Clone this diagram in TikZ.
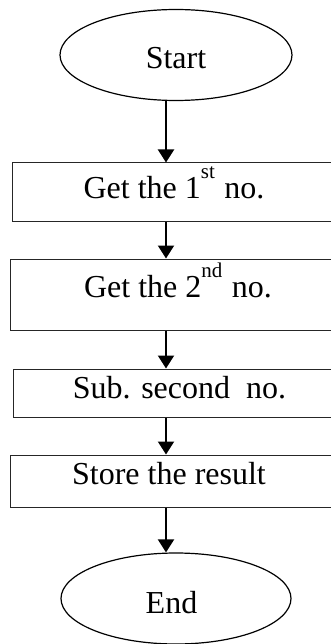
\documentclass[tikz,border=0pt]{standalone}
\usepackage{fontspec}
\setmainfont{Liberation Serif}
\usetikzlibrary{arrows.meta,shapes.geometric}
\newcommand\supr[1]{\raisebox{20pt}{\fontsize{21}{22}\selectfont #1}}
\begin{document}
\begin{tikzpicture}[x=1pt,y=-1pt,
  box/.style={draw=black!85,line width=1pt,rectangle,inner sep=0pt},
  term/.style={draw,ellipse,line width=1.2pt,inner sep=0pt},
  lbl/.style={font=\fontsize{32}{34}\selectfont,anchor=base,inner sep=0pt},
  flow/.style={line width=2pt,-{Triangle[length=13pt,width=16pt]}}]
\useasboundingbox (0,0) rectangle (331,644);
\clip (0,0) rectangle (331,644);
\fill[white] (0,0) rectangle (331,644);
\coordinate (ax) at (166,0);
\node[term,minimum width=232pt,minimum height=91pt] (start) at (176,55) {};
\node[box,minimum width=338pt,minimum height=58pt] (b1) at (181,192) {};
\node[box,minimum width=340pt,minimum height=71pt] (b2) at (180,294.5) {};
\node[box,minimum width=337pt,minimum height=48pt] (b3) at (181.5,393) {};
\node[box,minimum width=340pt,minimum height=52pt] (b4) at (180,481) {};
\node[term,minimum width=230pt,minimum height=91pt] (stop) at (176,598.5) {};
\node[lbl] (t0) at (176,69) {Start};
\node[lbl] (t1) at (174,199) {Get the 1\supr{st}\hspace{0.3em}no.};
\node[lbl] (t2) at (178,297) {Get the 2\supr{nd}\hspace{0.3em}no.};
\node[lbl] (t3) at (179.5,398) {Sub. second\ \ no.};
\node[lbl] (t4) at (169,484) {Store the result};
\node[lbl] (t5) at (171.5,613) {End};
\draw[flow] (start.south -| ax) -- (b1.north -| ax);
\draw[flow] (b1.south -| ax) -- (b2.north -| ax);
\draw[flow] (b2.south -| ax) -- (b3.north -| ax);
\draw[flow] (b3.south -| ax) -- (b4.north -| ax);
\draw[flow] (b4.south -| ax) -- (stop.north -| ax);
\end{tikzpicture}
\end{document}
